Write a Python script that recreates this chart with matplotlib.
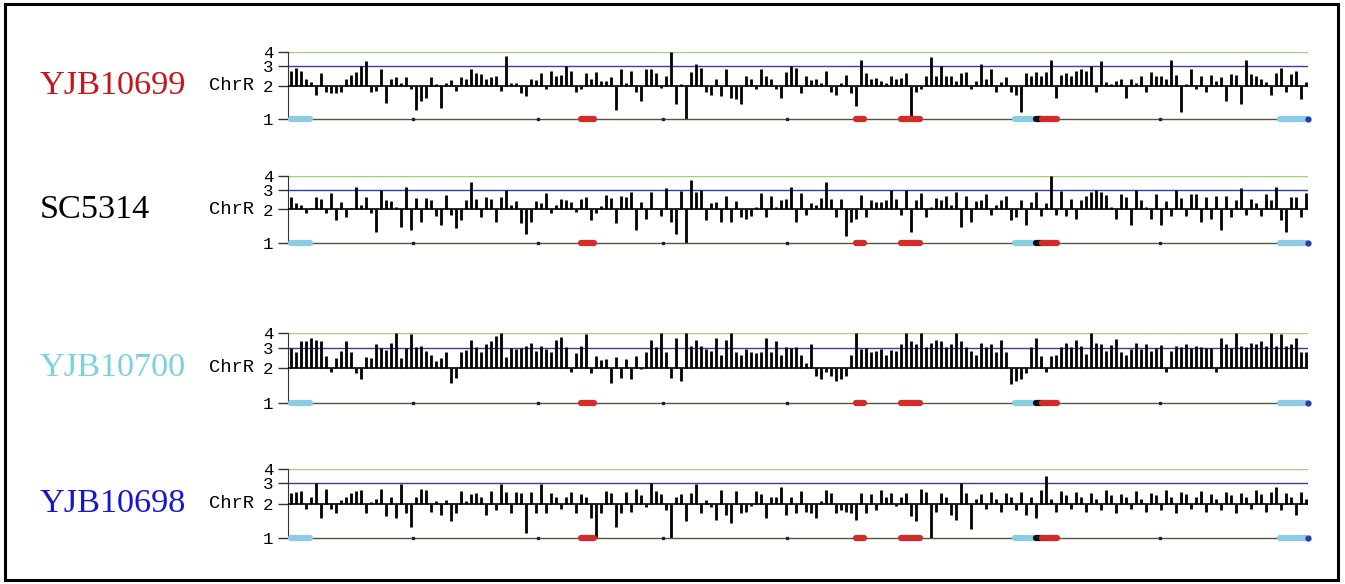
import matplotlib
matplotlib.use('Agg')
import matplotlib.pyplot as plt
from matplotlib.patches import Rectangle

# strains (top to bottom) and their label colours
strains = ['YJB10699', 'SC5314', 'YJB10700', 'YJB10698']
strain_colors = ['#c4161c', '#000000', '#7ad3dc', '#1616d0']

# copy number per bin along ChrR (about 204 bins, left to right)
cn_10699 = [
    2.7, 2.9, 2.7, 2.3, 2.15, 1.65, 2.6, 1.75, 1.7, 1.7,
    1.75, 2.3, 2.5, 2.65, 3.0, 3.3, 1.75, 1.8, 2.8, 1.4,
    2.3, 2.4, 2.1, 2.4, 1.85, 1.2, 1.45, 1.55, 2.4, 2.05,
    1.25, 2.1, 2.25, 1.8, 2.4, 2.3, 2.8, 2.6, 2.55, 2.3,
    2.4, 2.45, 1.8, 3.7, 2.1, 2.1, 1.7, 1.6, 2.3, 2.25,
    2.6, 1.85, 2.7, 2.45, 2.5, 3.0, 2.7, 1.75, 1.85, 2.6,
    2.3, 2.65, 2.2, 2.2, 2.4, 1.2, 2.8, 2.1,
    2.7, 1.75, 1.45, 2.8, 2.8, 2.6, 1.9, 2.45, 4.0, 1.35,
    2.05, 1.0, 2.65, 3.1, 2.9, 1.75, 1.65, 2.3, 1.6, 2.8,
    1.55, 1.5, 1.35, 2.45, 2.3, 1.85, 2.8, 2.45, 2.3, 1.85,
    1.55, 2.65, 3.0, 2.9, 1.7, 2.45, 2.25, 2.3, 2.1, 2.7,
    1.75, 1.65, 2.1, 2.5, 1.7, 1.3, 3.4, 2.6, 2.3, 2.35,
    2.2, 2.1, 2.45, 2.3, 2.35, 2.6, 1.0, 1.75, 1.85, 2.45,
    3.6, 2.45, 3.0, 2.45, 2.45, 2.2, 2.6, 2.65, 1.85, 2.2,
    3.1, 2.3, 2.8, 1.75, 2.15, 2.4, 1.75, 1.65, 1.15, 2.6,
    2.45, 2.65, 2.45, 2.65, 3.4, 1.55, 2.5, 2.6, 2.45, 2.7,
    2.8, 2.7, 3.0, 1.75, 3.3, 2.15, 2.05, 2.2, 2.3, 1.55,
    2.3, 2.1, 2.45, 1.75, 2.65, 2.45, 2.45, 2.3, 3.4, 2.5,
    1.15, 2.05, 2.8, 1.85, 2.45, 1.75, 2.5, 2.2, 2.4, 1.45,
    2.55, 2.5, 1.35, 3.4, 2.55, 2.45, 2.3, 2.15, 1.65, 2.6,
    2.9, 1.75, 2.55, 2.7, 1.5, 2.15,
]
cn_sc5314 = [
    2.6, 2.3, 2.2, 1.87, 2.05, 2.6, 2.5, 1.85, 2.8, 1.6,
    2.35, 1.7, 2.05, 3.2, 2.2, 2.6, 1.85, 1.25, 3.0, 2.45,
    2.4, 2.1, 1.4, 3.2, 1.3, 2.55, 1.55, 2.55, 2.45, 1.75,
    1.45, 2.7, 1.8, 1.35, 1.6, 2.45, 3.5, 2.5, 1.7, 2.6,
    2.5, 1.55, 2.6, 3.0, 2.2, 2.4, 1.5, 1.2, 1.55, 2.4,
    2.3, 2.8, 1.85, 2.2, 2.5, 2.45, 2.35, 1.9, 2.5, 2.6,
    1.6, 1.85, 2.15, 2.7, 2.55, 1.5, 2.65, 2.6,
    2.9, 1.3, 2.35, 1.65, 2.9, 2.05, 1.75, 3.1, 1.55, 1.2,
    2.95, 1.0, 3.7, 2.9, 3.0, 1.6, 2.3, 2.35, 1.55, 2.65,
    1.55, 2.4, 1.7, 1.65, 1.75, 2.1, 2.8, 1.7, 2.65, 2.1,
    2.45, 2.5, 3.2, 1.55, 2.8, 1.8, 2.3, 2.2, 2.55, 3.5,
    2.5, 1.7, 2.5, 1.15, 1.55, 1.65, 2.7, 1.7, 2.45, 2.35,
    2.35, 2.45, 3.0, 2.5, 1.8, 3.0, 1.25, 2.45, 2.8, 1.7,
    2.1, 2.55, 2.45, 2.65, 2.2, 2.9, 1.4, 2.65, 1.55, 2.4,
    2.45, 2.75, 1.8, 2.2, 2.45, 2.65, 1.6, 1.7, 2.45, 1.45,
    2.35, 2.9, 1.75, 2.3, 4.0, 1.8, 2.95, 1.75, 2.5, 1.65,
    2.45, 2.65, 2.85, 3.0, 2.9, 2.7, 2.1, 1.65, 2.75, 2.6,
    1.45, 3.0, 2.45, 2.1, 1.65, 2.75, 1.45, 2.4, 1.75, 3.0,
    2.55, 1.75, 2.75, 2.75, 1.55, 2.6, 1.65, 2.65, 1.3, 2.65,
    1.7, 2.45, 3.1, 1.8, 2.5, 2.3, 1.75, 2.75, 2.45, 3.2,
    1.6, 1.25, 2.6, 2.6, 1.7, 2.8,
]
cn_10700 = [
    3.0, 2.75, 3.4, 3.4, 3.6, 3.5, 3.4, 2.55, 1.85, 2.45,
    2.8, 3.4, 2.75, 1.8, 1.6, 2.5, 2.45, 3.2, 3.0, 2.85,
    3.3, 4.0, 2.45, 2.95, 3.9, 3.05, 3.1, 2.8, 2.6, 2.3,
    2.45, 2.75, 1.5, 1.65, 2.75, 2.85, 3.5, 3.05, 2.75, 3.2,
    3.4, 3.8, 4.0, 2.5, 2.95, 2.9, 2.95, 3.1, 3.25, 2.8,
    3.1, 2.9, 2.75, 3.45, 3.7, 3.05, 1.85, 2.7, 3.1, 3.9,
    1.8, 2.55, 2.35, 2.4, 1.5, 2.5, 1.65, 2.4,
    1.6, 2.56, 1.95, 2.75, 3.5, 3.05, 4.0, 2.75, 1.65, 3.6,
    1.55, 4.0, 3.1, 3.5, 3.1, 2.9, 2.8, 3.6, 2.6, 3.5,
    4.0, 2.75, 2.6, 2.9, 2.75, 2.7, 2.75, 3.6, 2.75, 3.4,
    2.6, 3.05, 3.0, 3.05, 2.6, 2.2, 3.2, 1.7, 1.6, 1.85,
    1.7, 1.55, 1.6, 1.7, 2.6, 4.0, 2.9, 3.0, 2.75, 2.8,
    2.9, 2.6, 2.85, 2.8, 3.2, 4.0, 3.4, 3.2, 4.0, 3.05,
    3.3, 3.5, 3.4, 3.05, 3.2, 4.0, 3.4, 3.05, 2.8, 2.6,
    3.3, 3.05, 3.2, 2.75, 3.45, 2.75, 1.45, 1.55, 1.6, 1.8,
    3.05, 3.6, 2.55, 1.85, 2.55, 2.6, 3.05, 3.25, 3.05, 3.5,
    3.1, 2.65, 4.0, 3.25, 3.2, 2.8, 3.15, 3.55, 2.75, 2.6,
    2.9, 3.3, 2.9, 3.2, 2.8, 2.95, 3.15, 1.85, 2.8, 3.1,
    3.05, 3.2, 3.0, 3.1, 3.05, 3.0, 2.95, 1.85, 3.6, 3.2,
    3.0, 4.0, 3.1, 3.05, 3.25, 3.2, 3.4, 3.1, 4.0, 3.1,
    3.9, 3.1, 3.2, 3.6, 2.75, 2.75,
]
cn_10698 = [
    2.45, 2.5, 2.55, 1.8, 2.3, 3.0, 1.5, 2.65, 1.8, 1.65,
    2.15, 2.3, 2.45, 2.55, 2.6, 1.65, 2.05, 2.2, 2.7, 1.55,
    2.3, 1.5, 2.95, 1.65, 1.25, 2.3, 2.7, 2.6, 1.7, 2.1,
    1.6, 2.15, 1.4, 1.65, 2.55, 2.1, 2.4, 2.45, 2.3, 1.6,
    2.55, 1.75, 2.95, 2.5, 1.65, 2.5, 2.45, 1.1, 2.5, 1.65,
    2.95, 1.65, 2.45, 2.3, 1.8, 2.3, 2.5, 1.65, 2.4, 2.3,
    1.5, 1.0, 1.65, 2.55, 2.45, 1.25, 1.65, 2.5,
    1.7, 2.65, 2.35, 1.85, 3.0, 2.55, 2.4, 1.75, 1.0, 2.3,
    2.4, 1.4, 2.45, 2.95, 1.65, 2.15, 1.85, 1.45, 2.6, 1.6,
    1.35, 2.55, 1.65, 1.7, 1.9, 2.55, 2.4, 1.5, 2.3, 2.3,
    2.8, 1.6, 2.3, 1.65, 2.55, 1.7, 1.65, 1.5, 2.1, 2.6,
    2.45, 1.65, 1.75, 1.7, 1.65, 1.45, 2.45, 1.65, 2.4, 1.75,
    2.6, 2.3, 2.45, 1.9, 2.3, 2.45, 1.55, 1.4, 2.65, 2.5,
    1.0, 1.7, 2.45, 2.3, 1.6, 1.45, 3.0, 2.45, 1.2, 2.2,
    2.4, 1.8, 2.5, 2.2, 1.7, 2.45, 2.3, 1.75, 2.5, 1.6,
    2.3, 1.5, 2.6, 3.5, 2.2, 1.7, 2.55, 2.35, 1.8, 2.5,
    2.3, 1.7, 2.45, 2.2, 1.75, 2.6, 2.35, 1.65, 2.4, 2.3,
    1.8, 2.55, 2.2, 1.7, 2.45, 2.35, 1.75, 2.6, 2.3, 1.65,
    2.5, 2.4, 1.8, 2.3, 2.55, 1.7, 2.4, 2.2, 1.75, 2.5,
    2.35, 1.65, 2.45, 2.3, 1.8, 2.6, 2.4, 1.7, 2.5, 2.8,
    1.75, 2.45, 2.3, 1.6, 2.5, 2.2,
]
copy_numbers = [cn_10699, cn_sc5314, cn_10700, cn_10698]

# chromosome features drawn on the y=1 line (start bin, end bin, colour)
feat_start = [0.0, 58.0, 113.0, 122.0, 144.8, 149.0, 150.2, 197.8]
feat_end = [3.8, 60.6, 114.6, 125.8, 148.8, 150.2, 153.2, 203.0]
feat_color = ['#8ccbe4', '#d42a2a', '#d42a2a', '#d42a2a', '#8ccbe4', '#111111', '#d42a2a', '#8ccbe4']
chrom_ticks = [24.4, 49.4, 74.4, 99.2, 124.2, 149.2, 173.8, 198.8]
chrom_end = 203.4

yticks = [1, 2, 3, 4]

W, H = 1345, 584
fig = plt.figure(figsize=(W / 100, H / 100), dpi=100)
fig.patch.set_facecolor('white')

# outer frame
fig.patches.append(Rectangle((5 / W, 4 / H), 1333 / W, 576 / H, transform=fig.transFigure,
                             fill=False, edgecolor='black', linewidth=2.2))

# panel top/bottom pixel rows (y=4 and y=1)
panel_px = [(52, 119), (176, 243), (333, 403), (469, 538)]
left_px, right_px = 288, 1308

for k in range(4):
    top, bot = panel_px[k]
    ax = fig.add_axes([left_px / W, 1 - bot / H, (right_px - left_px) / W, (bot - top) / H])
    ax.set_yscale('log', base=2)
    ax.set_ylim(1, 4)
    ax.set_xlim(-0.6, chrom_end)
    vals = copy_numbers[k]
    xs = list(range(len(vals)))

    ax.axhline(4, color='#9cd07a', lw=1.0, zorder=1)
    ax.axhline(3, color='#3a3aa6', lw=1.0, zorder=1)
    ax.vlines(xs, 2, vals, colors='black', lw=2.0, zorder=2)
    ax.axhline(2, color='black', lw=1.2, zorder=3)

    # chromosome line with features
    ax.plot([0, chrom_end], [1, 1], color='#55553f', lw=1.0, zorder=3, clip_on=False)
    ax.plot(chrom_ticks, [1] * len(chrom_ticks), 's', color='#222222', ms=1.8, zorder=4, clip_on=False)
    for s, e, c in zip(feat_start, feat_end, feat_color):
        ax.plot([s, e], [1, 1], color=c, lw=4.5, solid_capstyle='round', zorder=5, clip_on=False)
    ax.plot([chrom_end], [1], 'o', color='#2040b0', ms=3.5, zorder=6, clip_on=False)

    for side in ['top', 'right', 'bottom']:
        ax.spines[side].set_visible(False)
    ax.spines['left'].set_color('#333333')
    ax.set_xticks([])
    ax.set_yticks(yticks)
    ax.set_yticklabels([str(t) for t in yticks], family='Liberation Mono', fontsize=12.5)
    ax.minorticks_off()
    ax.tick_params(axis='y', length=7.2, width=1.0, pad=3.6, color='#333333')

    # ChrR label next to the "2" tick, strain name at the far left
    y2 = 1 - (bot - (bot - top) * 0.5) / H
    fig.text(254 / W, y2, 'ChrR', family='Liberation Mono', fontsize=13.5, ha='right', va='center')
    fig.text(40 / W, y2, strains[k], family='Liberation Serif', fontsize=24.7,
             color=strain_colors[k], ha='left', va='center')

fig.savefig('out.png', dpi=100)
